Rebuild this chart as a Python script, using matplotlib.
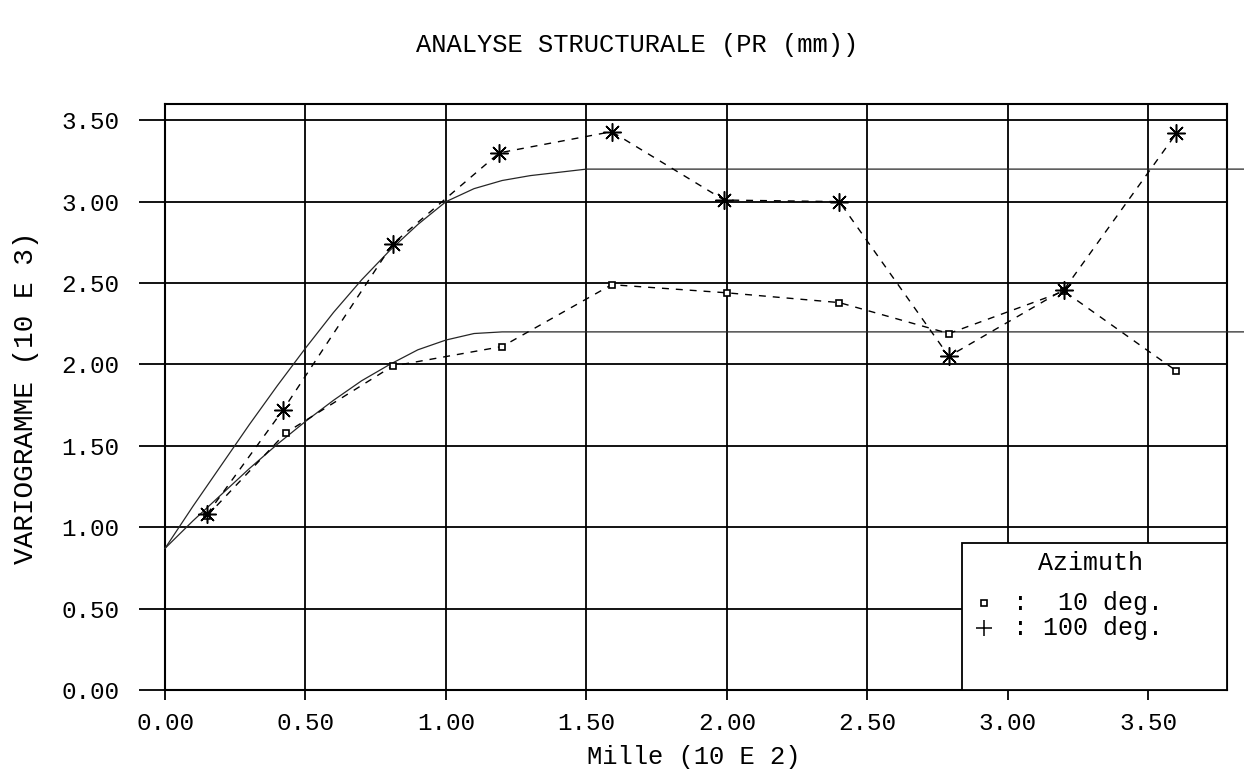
#!/usr/bin/env python3
"""
plot.py - variogram plot (analyse structurale), two azimuths + fitted models
"""

import matplotlib
matplotlib.use("Agg")
import matplotlib.pyplot as plt
from matplotlib.patches import Rectangle

# Experimental variogram, azimuth 100 deg (asterisks)
LAG_100 = [0.15, 0.42, 0.81, 1.19, 1.59, 1.99, 2.40, 2.79, 3.20, 3.60]
GAMMA_100 = [1.08, 1.72, 2.74, 3.30, 3.43, 3.01, 3.00, 2.05, 2.46, 3.42]

# Experimental variogram, azimuth 10 deg (squares)
LAG_10 = [0.15, 0.43, 0.81, 1.20, 1.59, 2.00, 2.40, 2.79, 3.20, 3.60]
GAMMA_10 = [1.07, 1.58, 1.99, 2.11, 2.49, 2.44, 2.38, 2.19, 2.45, 1.96]

# Fitted models (last point = sill line running past the frame)
MODEL_X_100 = [0.0, 0.1, 0.2, 0.3, 0.4, 0.5, 0.6, 0.7, 0.8, 0.9, 1.0,
               1.1, 1.2, 1.3, 1.4, 1.5, 3.84]
MODEL_Y_100 = [0.87, 1.13, 1.38, 1.63, 1.87, 2.10, 2.32, 2.52, 2.70, 2.86, 3.00,
               3.08, 3.13, 3.16, 3.18, 3.20, 3.20]
MODEL_X_10 = [0.0, 0.1, 0.2, 0.3, 0.4, 0.5, 0.6, 0.7, 0.8, 0.9, 1.0,
              1.1, 1.2, 3.84]
MODEL_Y_10 = [0.87, 1.04, 1.20, 1.36, 1.51, 1.65, 1.78, 1.90, 2.00, 2.09, 2.15,
              2.19, 2.20, 2.20]

TICKS_X = [0.0, 0.5, 1.0, 1.5, 2.0, 2.5, 3.0, 3.5]
TICKS_Y = [0.0, 0.5, 1.0, 1.5, 2.0, 2.5, 3.0, 3.5]

TITLE = "ANALYSE STRUCTURALE (PR (mm))"
XLABEL = "Mille (10 E 2)"
YLABEL = "VARIOGRAMME (10 E 3)"
LEGEND_TITLE = "Azimuth"
LEGEND_ROWS = [":  10 deg.", ": 100 deg."]

FONT = ["Liberation Mono", "DejaVu Sans Mono"]
W, H = 1244, 774


def main():
    plt.rcParams["font.family"] = FONT
    fig = plt.figure(figsize=(W / 100, H / 100), dpi=100)
    ax = fig.add_axes([165 / W, 1 - 690 / H, 1062 / W, 586 / H])

    ax.set_xlim(0, 3.78)
    ax.set_ylim(0, 3.6)
    ax.set_xticks(TICKS_X)
    ax.set_yticks(TICKS_Y)
    ax.set_xticklabels([f"{v:.2f}" for v in TICKS_X], fontsize=17.5)
    ax.set_yticklabels([f"{v:.2f}" for v in TICKS_Y], fontsize=17.5)
    ax.tick_params(axis="y", length=19, width=1.3, pad=14)
    ax.tick_params(axis="x", length=7, width=1.3, pad=9)
    ax.grid(True, color="black", linewidth=1.3)
    ax.set_axisbelow(True)
    for sp in ax.spines.values():
        sp.set_linewidth(1.5)

    # models (thin solid)
    ax.plot(MODEL_X_100, MODEL_Y_100, color="0.15", lw=0.9, clip_on=False, zorder=3)
    ax.plot(MODEL_X_10, MODEL_Y_10, color="0.15", lw=0.9, clip_on=False, zorder=3)

    # experimental points, dashed joins
    ax.plot(LAG_10, GAMMA_10, color="black", lw=1.0, dashes=(5, 5),
            marker="s", ms=5, mfc="white", mec="black", mew=1.2, zorder=4)
    ax.plot(LAG_100, GAMMA_100, color="black", lw=1.0, dashes=(5, 5),
            marker=(8, 2, 0), ms=13, mew=1.1, mec="black", zorder=4)

    # legend box in lower right corner
    box = Rectangle((0.7505, 0.0), 0.2495, 0.251, transform=ax.transAxes,
                    facecolor="white", edgecolor="black", lw=1.3, zorder=5)
    ax.add_patch(box)
    ax.text(0.871, 0.217, LEGEND_TITLE, transform=ax.transAxes, ha="center",
            va="center", fontsize=18, zorder=6)
    ax.plot([0.771], [0.148], transform=ax.transAxes, marker="s", ms=5,
            mfc="white", mec="black", mew=1.2, zorder=6)
    ax.plot([0.771], [0.106], transform=ax.transAxes, marker="+", ms=11,
            mec="black", mew=1.1, zorder=6)
    for y, row in zip([0.148, 0.106], LEGEND_ROWS):
        ax.text(0.7985, y, row, transform=ax.transAxes, ha="left",
                va="center", fontsize=18, zorder=6)

    fig.text(637 / W, 1 - 45 / H, TITLE, ha="center", va="center", fontsize=18.4)
    fig.text(694 / W, 1 - 757 / H, XLABEL, ha="center", va="center", fontsize=18.4)
    fig.text(26 / W, 1 - 398 / H, YLABEL, ha="center", va="center",
             rotation=90, fontsize=20)

    fig.savefig("out.png", dpi=100)
    plt.close(fig)


if __name__ == "__main__":
    main()
